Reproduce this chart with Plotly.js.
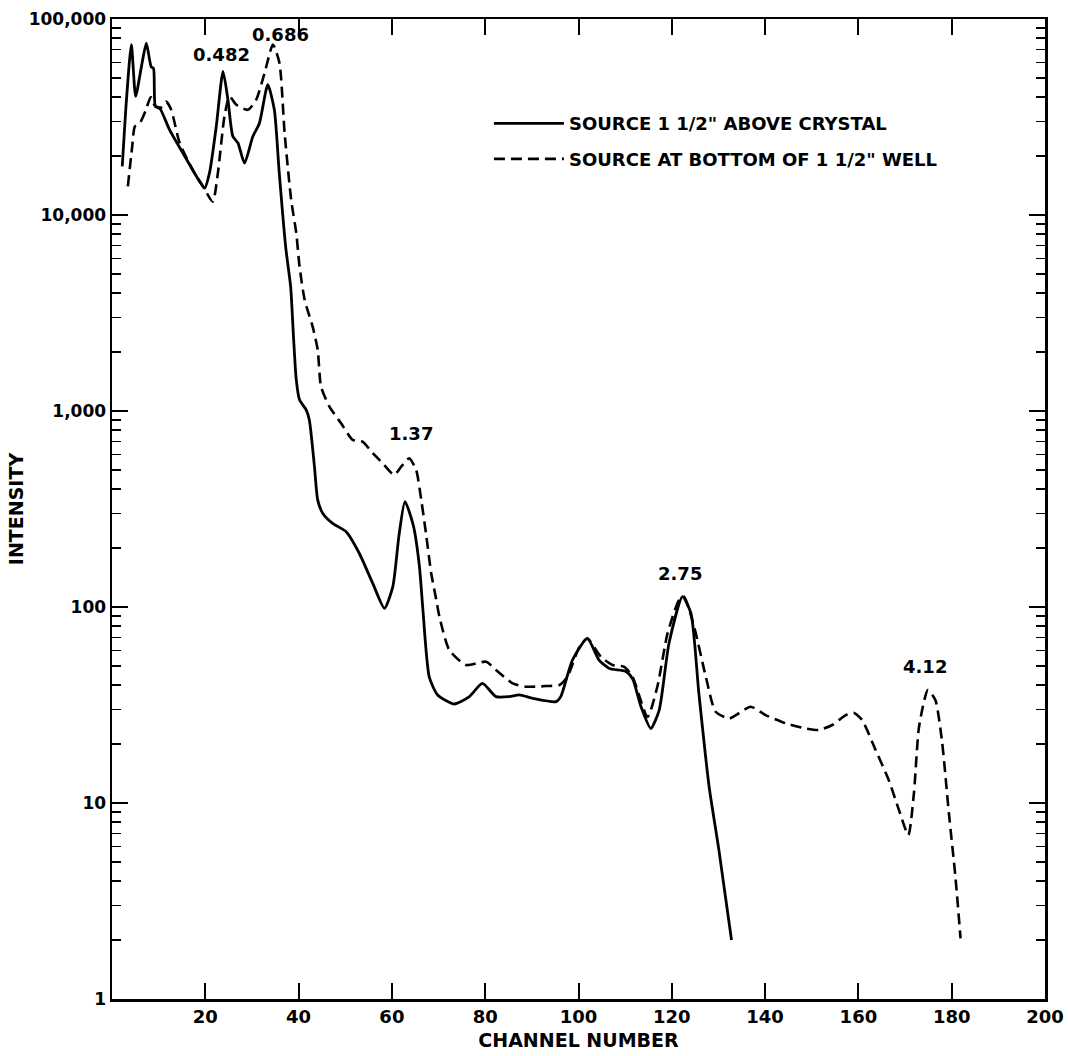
<!DOCTYPE html>
<html>
<head>
<meta charset="utf-8">
<script src="https://cdn.plot.ly/plotly-3.0.1.min.js"></script>
<style>
  html, body { margin: 0; padding: 0; background: #fff; }
  #chart { width: 1068px; height: 1056px; }
</style>
</head>
<body>
<div id="chart"></div>
<script>
// ---- Data ----
const solidName = 'SOURCE 1 1/2" ABOVE CRYSTAL';
const dashedName = 'SOURCE AT BOTTOM OF 1 1/2" WELL';

const solidChannel = [2.2, 3.1, 4.15, 5.07, 6.3, 7.36, 8.4, 8.9, 9.3, 10.2, 12.35, 15.2, 18.8, 19.85, 20.9, 22.35, 23.8, 24.85, 25.9, 27.0, 28.4, 30.2, 31.6, 33.4, 34.8, 35.8, 36.6, 37.3, 38.3, 38.9, 39.5, 40.2, 41.6, 42.3, 43.4, 44.1, 45.2, 47.3, 50.2, 53.0, 55.9, 58.4, 60.2, 61.5, 62.8, 64.6, 65.9, 66.6, 68.0, 69.8, 73.4, 76.6, 79.4, 82.3, 85.2, 87.3, 90.2, 95.2, 96.2, 98.7, 101.9, 104.4, 106.6, 110.1, 111.6, 113.4, 115.5, 117.3, 119.4, 122.3, 124.1, 125.8, 128.0, 130.1, 132.8];
const solidIntensity = [17700, 38700, 74000, 40300, 57000, 75300, 57000, 56000, 36000, 35200, 27200, 20700, 14800, 13700, 16400, 28300, 54000, 38700, 25200, 23300, 18400, 25200, 29400, 46200, 34400, 17000, 10000, 6640, 4300, 2400, 1440, 1140, 1015, 900, 520, 351, 300, 267, 242, 188, 132, 98.5, 127, 230, 345, 260, 161, 100, 44, 35.6, 32.0, 34.9, 40.8, 34.9, 34.9, 35.6, 34.2, 32.9, 34.9, 53.6, 69.2, 53.6, 48.6, 47, 43, 31, 24, 29.8, 65.3, 113, 93, 36.3, 12.1, 5.75, 2.0];

const dashedChannel = [3.4, 4.3, 4.9, 6.0, 7.2, 8.3, 9.2, 10.3, 11.6, 12.7, 14.5, 17.3, 19.5, 21.6, 22.7, 24.1, 25.2, 26.6, 29.1, 30.9, 32.7, 34.5, 35.9, 37.0, 38.4, 39.5, 40.2, 41.3, 43.0, 44.1, 44.8, 46.6, 49.1, 51.6, 53.7, 55.9, 58.0, 60.5, 62.0, 63.7, 65.2, 66.3, 67.3, 68.4, 69.5, 70.2, 72.3, 75.9, 80.2, 82.3, 85.9, 88.7, 93.0, 95.9, 97.6, 100.2, 101.9, 104.8, 107.3, 109.8, 111.6, 114.8, 116.9, 119.1, 121.6, 122.6, 124.8, 127.3, 129.4, 132.3, 134.4, 136.9, 140.1, 144.4, 148.7, 151.5, 154.4, 157.3, 159.0, 160.8, 163.7, 166.5, 168.7, 170.7, 171.9, 173.0, 174.9, 176.5, 177.9, 179.4, 180.8, 181.9];
const dashedIntensity = [14000, 22000, 28300, 29500, 34000, 40000, 36000, 35000, 37900, 34400, 23300, 17000, 14000, 11700, 16400, 31800, 40300, 36600, 34400, 38700, 53000, 74000, 59600, 26200, 11970, 8090, 5460, 3690, 2700, 2050, 1333, 1052, 866, 712, 698, 609, 542, 472, 520, 574, 500, 351, 238, 150, 109, 89, 60.3, 50.6, 52.6, 47.7, 40.8, 39.2, 39.5, 40, 44, 62.6, 69, 55.7, 50.6, 49.5, 44, 27.5, 39.2, 73.5, 109, 113, 79, 44, 29.2, 27, 28.7, 31, 28.1, 25.5, 24.0, 23.6, 25.0, 28.1, 28.9, 26.5, 18.6, 13.1, 9.2, 6.86, 11.2, 24.5, 37.7, 33.5, 20.9, 8.85, 4.2, 2.04];

// Peak energy labels (MeV) and where they sit (channel, intensity)
const peakLabels = ['0.482', '0.686', '1.37', '2.75', '4.12'];
const peakLabelChannel = [23.4, 36.1, 64.1, 121.7, 174.2];
const peakLabelIntensity = [65800, 83500, 769, 149, 49.5];

// Axis ticks
const xTickVals = [20, 40, 60, 80, 100, 120, 140, 160, 180, 200];
const xTickText = ['20', '40', '60', '80', '100', '120', '140', '160', '180', '200'];
const yTickVals = [1, 10, 100, 1000, 10000, 100000];
const yTickText = ['1', '10', '100', '1,000', '10,000', '100,000'];

// ---- Chart ----
const FONT = 'DejaVu Sans';
const BOLD = 700;

const traces = [
  {
    x: solidChannel, y: solidIntensity, name: solidName,
    type: 'scatter', mode: 'lines', legendgroup: 'a',
    line: { color: '#000', width: 2.8, shape: 'spline', smoothing: 0.6 }
  },
  {
    x: dashedChannel, y: dashedIntensity, name: dashedName,
    type: 'scatter', mode: 'lines', legendgroup: 'b',
    line: { color: '#000', width: 2.6, dash: '11px,6px', shape: 'spline', smoothing: 0.6 }
  }
];

const annotations = peakLabels.map((t, i) => ({
  x: peakLabelChannel[i], y: Math.log10(peakLabelIntensity[i]),
  xref: 'x', yref: 'y', text: t, showarrow: false,
  font: { family: FONT, size: 18, color: '#000', weight: BOLD }
}));

const axisCommon = {
  showline: true, linecolor: '#000', linewidth: 2.5, mirror: 'ticks',
  ticks: 'inside', ticklen: 16, tickwidth: 2, tickcolor: '#000',
  showgrid: false, zeroline: false, automargin: false,
};

const layout = {
  width: 1068, height: 1056,
  margin: { l: 112, r: 23, t: 19, b: 57, autoexpand: false },
  paper_bgcolor: '#fff', plot_bgcolor: '#fff',
  font: { family: FONT, color: '#000', size: 18, weight: BOLD },
  showlegend: true,
  legend: {
    x: 0.404, y: 0.912, xanchor: 'left', yanchor: 'top',
    font: { family: FONT, size: 18, color: '#000', weight: BOLD },
    itemwidth: 70, bgcolor: 'rgba(0,0,0,0)', borderwidth: 0,
    traceorder: 'grouped', tracegroupgap: 9
  },
  xaxis: Object.assign({}, axisCommon, {
    range: [0, 200], tickmode: 'array', tickvals: xTickVals, ticktext: xTickText,
    tickfont: { family: FONT, size: 18, color: '#000', weight: BOLD },
    title: { text: 'CHANNEL NUMBER', font: { family: FONT, size: 19, color: '#000', weight: BOLD }, standoff: 8 }
  }),
  yaxis: Object.assign({}, axisCommon, {
    type: 'log', range: [0, 5], tickmode: 'array', tickvals: yTickVals, ticktext: yTickText,
    tickfont: { family: FONT, size: 17, color: '#000', weight: BOLD },
    minor: { ticks: 'inside', ticklen: 9, tickwidth: 1.5, tickcolor: '#000', dtick: 'D1', showgrid: false },
    title: { text: 'INTENSITY', font: { family: FONT, size: 19, color: '#000', weight: BOLD }, standoff: 0 }
  }),
  annotations: annotations
};

Plotly.newPlot('chart', traces, layout, { staticPlot: true, displayModeBar: false });
</script>
</body>
</html>
